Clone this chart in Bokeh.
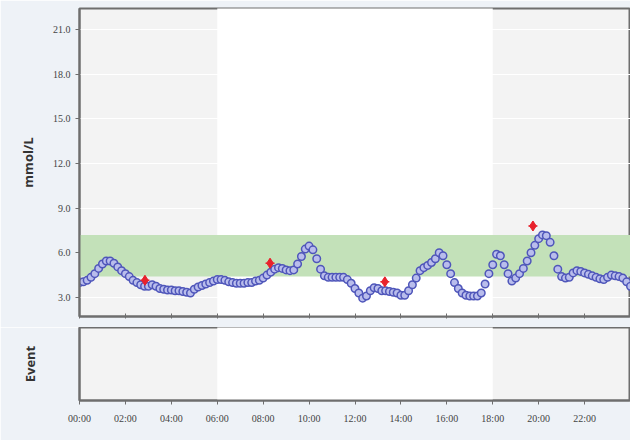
from bokeh.plotting import figure
from bokeh.layouts import column
from bokeh.models import FixedTicker, ColumnDataSource
from bokeh.embed import file_html
from bokeh.resources import INLINE

# ---- data ----
hours = [k / 6 for k in range(145)]  # 10-minute readings
glucose = [
    4.0, 4.05, 4.15, 4.35, 4.6, 4.95, 5.25, 5.45, 5.45, 5.3, 5.05, 4.8,
    4.6, 4.4, 4.15, 4.0, 3.85, 3.75, 3.75, 3.85, 3.75, 3.6, 3.55, 3.5,
    3.5, 3.45, 3.45, 3.4, 3.35, 3.3, 3.55, 3.7, 3.8, 3.9, 4.0, 4.1,
    4.2, 4.2, 4.15, 4.05, 4.0, 3.95, 3.95, 3.95, 4.0, 4.0, 4.1, 4.15,
    4.3, 4.5, 4.7, 4.9, 5.0, 4.95, 4.85, 4.8, 4.85, 5.25, 5.75, 6.25,
    6.45, 6.2, 5.6, 4.9, 4.45, 4.35, 4.35, 4.35, 4.35, 4.35, 4.2, 3.95,
    3.6, 3.3, 2.95, 3.1, 3.45, 3.65, 3.6, 3.45, 3.45, 3.4, 3.35, 3.3,
    3.15, 3.15, 3.45, 3.85, 4.3, 4.8, 5.0, 5.15, 5.35, 5.6, 6.0, 5.8,
    5.2, 4.6, 4.0, 3.6, 3.3, 3.15, 3.1, 3.1, 3.1, 3.3, 3.9, 4.6,
    5.2, 5.9, 5.8, 5.2, 4.6, 4.1, 4.3, 4.6, 4.95, 5.45, 6.0, 6.5,
    6.95, 7.2, 7.15, 6.7, 5.8, 4.9, 4.4, 4.3, 4.35, 4.65, 4.8, 4.75,
    4.65, 4.55, 4.45, 4.35, 4.25, 4.2, 4.35, 4.5, 4.45, 4.4, 4.3, 4.05,
    3.75,
]
event_hours = [2.85, 8.3, 13.3, 19.75]
event_values = [4.15, 5.3, 4.05, 7.8]
target_low = 4.4
target_high = 7.2
y_ticks = [3, 6, 9, 12, 15, 18, 21]
y_tick_labels = ["3.0", "6.0", "9.0", "12.0", "15.0", "18.0", "21.0"]
x_ticks = [0, 2, 4, 6, 8, 10, 12, 14, 16, 18, 20, 22]
x_tick_labels = ["00:00", "02:00", "04:00", "06:00", "08:00", "10:00",
                 "12:00", "14:00", "16:00", "18:00", "20:00", "22:00"]

TICK_FONT = "Liberation Sans Narrow"
BG = "#eef2f7"
AX = "#6e6e6e"

top = figure(width=630, height=327, x_range=(0, 24), y_range=(1.72, 22.41),
             output_backend="svg", toolbar_location=None,
             min_border_left=79, min_border_right=0, min_border_top=8,
             min_border_bottom=11)
top.background_fill_color = "#f3f3f3"
top.border_fill_color = BG
top.outline_line_color = AX
top.outline_line_width = 2

top.quad(left=[6], right=[18], bottom=[-100], top=[100], fill_color="white",
         line_color=None, level="image")

top.quad(left=[-1], right=[25], bottom=[target_low], top=[target_high],
         fill_color="#c3e1b9", line_color=None)

src = ColumnDataSource(dict(x=hours, y=glucose))
top.scatter("x", "y", source=src, size=7.5, marker="circle",
            fill_color="#b9bdec", line_color="#4f56ba", line_width=1.5)
top.scatter(event_hours, event_values, marker="diamond", size=10,
            fill_color="#e8222c", line_color="#e8222c")
top.scatter(event_hours, event_values, marker="cross", size=9,
            line_color="#e8222c", line_width=1.5)

top.xgrid.visible = False
top.ygrid.grid_line_color = "white"
top.ygrid.ticker = FixedTicker(ticks=y_ticks)

top.yaxis.ticker = FixedTicker(ticks=y_ticks)
top.yaxis.major_label_overrides = {t: l for t, l in zip(y_ticks, y_tick_labels)}
top.yaxis.major_label_text_font = TICK_FONT
top.yaxis.major_label_text_font_size = "10px"
top.yaxis.major_label_text_color = "#444444"
top.yaxis.axis_label = "mmol/L"
top.yaxis.axis_label_text_font = "Open Sans"
top.yaxis.axis_label_text_font_style = "bold"
top.yaxis.axis_label_text_font_size = "13px"
top.yaxis.axis_label_text_color = "#333333"
top.yaxis.axis_label_standoff = 13
top.yaxis.axis_line_color = AX
top.yaxis.axis_line_width = 2
top.yaxis.major_tick_line_color = AX
top.yaxis.major_tick_in = 0
top.yaxis.major_tick_out = 4
top.yaxis.minor_tick_line_color = None

top.xaxis.ticker = FixedTicker(ticks=x_ticks)
top.xaxis.major_label_text_font_size = "1px"
top.xaxis.major_label_text_color = None
top.xaxis.major_label_standoff = 0
top.xaxis.major_tick_in = 3
top.xaxis.major_tick_out = 2
top.xaxis.major_tick_line_color = AX
top.xaxis.minor_tick_line_color = None
top.xaxis.axis_line_color = AX
top.xaxis.axis_line_width = 2

bot = figure(width=630, height=113, x_range=top.x_range, y_range=(0, 1),
             output_backend="svg", toolbar_location=None,
             min_border_left=79, min_border_right=0, min_border_top=0,
             min_border_bottom=40)
bot.background_fill_color = "#f3f3f3"
bot.border_fill_color = BG
bot.outline_line_color = AX
bot.outline_line_width = 2
bot.quad(left=[6], right=[18], bottom=[-10], top=[10], fill_color="white",
         line_color=None, level="image")
bot.grid.visible = False

bot.yaxis.ticker = FixedTicker(ticks=[])
bot.yaxis.axis_label = "Event"
bot.yaxis.axis_label_text_font = "Open Sans"
bot.yaxis.axis_label_text_font_style = "bold"
bot.yaxis.axis_label_text_font_size = "13px"
bot.yaxis.axis_label_text_color = "#333333"
bot.yaxis.axis_label_standoff = 41
bot.yaxis.axis_line_color = AX
bot.yaxis.axis_line_width = 2
bot.yaxis.minor_tick_line_color = None

bot.xaxis.ticker = FixedTicker(ticks=x_ticks)
bot.xaxis.major_label_overrides = {t: l for t, l in zip(x_ticks, x_tick_labels)}
bot.xaxis.major_label_text_font = TICK_FONT
bot.xaxis.major_label_text_font_size = "10px"
bot.xaxis.major_label_text_color = "#444444"
bot.xaxis.major_label_standoff = 8
bot.xaxis.major_tick_in = 0
bot.xaxis.major_tick_out = 4
bot.xaxis.major_tick_line_color = AX
bot.xaxis.minor_tick_line_color = None
bot.xaxis.axis_line_color = AX
bot.xaxis.axis_line_width = 2

layout = column(top, bot, spacing=0)
open("out.html", "w").write(file_html(layout, INLINE))
